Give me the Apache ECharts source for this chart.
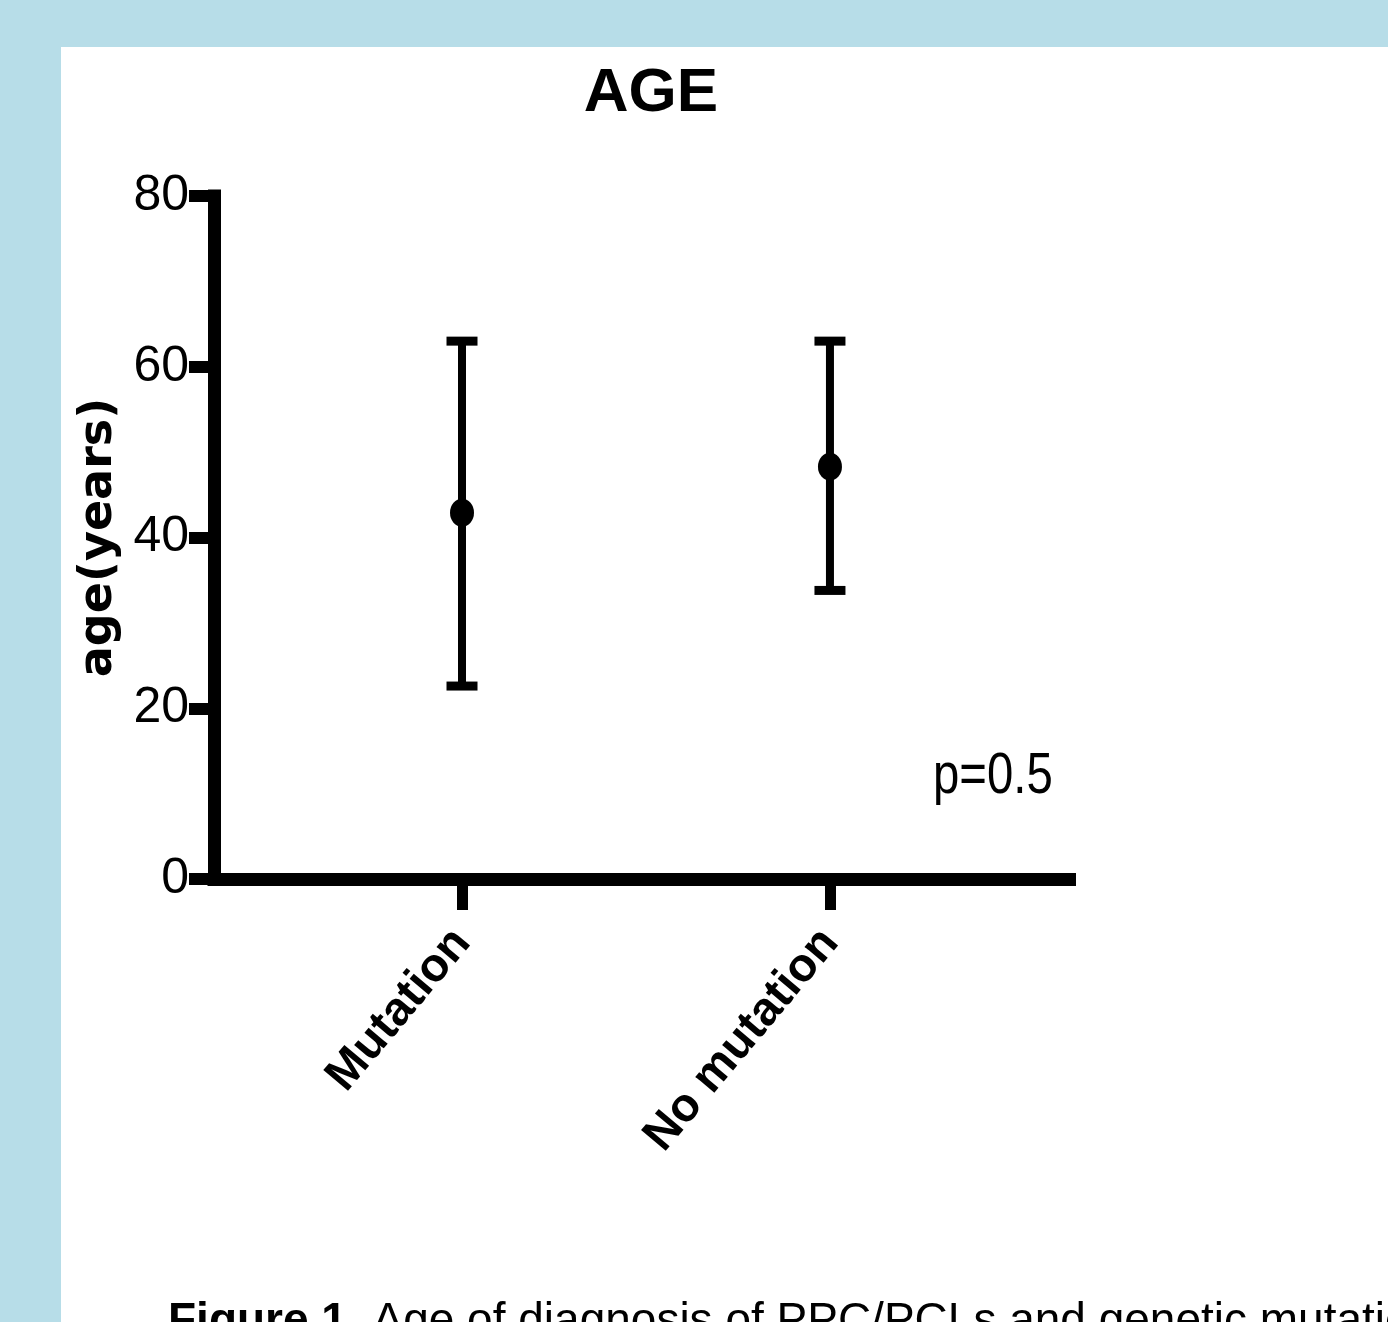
<!DOCTYPE html>
<html>
<head>
<meta charset="utf-8">
<script src="https://cdn.jsdelivr.net/npm/echarts@6/dist/echarts.min.js"></script>
<style>
  html, body { margin: 0; padding: 0; width: 1388px; height: 1322px; overflow: hidden; background: #b7dde8; }
  #panel { position: absolute; left: 61px; top: 47px; width: 1327px; height: 1275px; background: #ffffff; }
  #chart { position: absolute; left: 0; top: 0; width: 1388px; height: 1322px; }
</style>
</head>
<body>
<div id="panel"></div>
<div id="chart"></div>
<script>
const categories = ['Mutation', 'No mutation'];
const meanAge = [42.9, 48.3];
const upperAge = [63.0, 63.0];
const lowerAge = [22.6, 33.8];
const yMin = 0, yMax = 80, yStep = 20;
const titleText = 'AGE';
const yAxisTitle = 'age(years)';
const pText = 'p=0.5';
const captionBold = 'Figure 1.';
const captionRest = ' Age of diagnosis of PPC/PCLs and genetic mutations';

const SANS = '"Liberation Sans", Arial, sans-serif';
const BOLDW = '"DejaVu Sans", sans-serif';

const catIdx = categories.map((c, i) => i);
const barData = catIdx.map(i => [i, lowerAge[i], upperAge[i]]);
const meanData = catIdx.map(i => [i, meanAge[i]]);

const chart = echarts.init(document.getElementById('chart'), null, { renderer: 'canvas' });
chart.setOption({
  backgroundColor: 'transparent',
  animation: false,
  title: {
    text: titleText,
    left: 646,
    textAlign: 'center',
    top: 58,
    textStyle: { fontFamily: SANS, fontWeight: 'bold', fontSize: 62, lineHeight: 62, color: '#000' }
  },
  grid: { left: 214, right: 318.5, top: 196, bottom: 443, containLabel: false },
  xAxis: {
    type: 'value',
    min: -0.674,
    max: 1.651,
    splitLine: { show: false },
    axisLine: { show: true, onZero: false, lineStyle: { color: '#000', width: 13, cap: 'square' } },
    axisTick: { show: true, customValues: catIdx, length: 31, lineStyle: { color: '#000', width: 11 } },
    axisLabel: {
      customValues: catIdx,
      formatter: v => categories[Math.round(v)],
      rotate: 50,
      margin: 56,
      fontFamily: SANS,
      fontWeight: 'bold',
      fontSize: 47,
      color: '#000'
    }
  },
  yAxis: {
    type: 'value',
    min: yMin,
    max: yMax,
    interval: yStep,
    name: yAxisTitle,
    nameLocation: 'middle',
    nameRotate: 90,
    nameGap: 69,
    nameTextStyle: { fontFamily: BOLDW, fontWeight: 'bold', fontSize: 46, lineHeight: 46, color: '#000' },
    splitLine: { show: false },
    axisLine: { show: true, onZero: false, lineStyle: { color: '#000', width: 13, cap: 'square' } },
    axisTick: { show: true, length: 25, lineStyle: { color: '#000', width: 12 } },
    axisLabel: { margin: 25, fontFamily: SANS, fontSize: 50, color: '#000' }
  },
  series: [
    {
      type: 'custom',
      data: barData,
      z: 3,
      renderItem: function (params, api) {
        const x = api.value(0);
        const lo = api.coord([x, api.value(1)]);
        const hi = api.coord([x, api.value(2)]);
        const half = 15.5;
        return {
          type: 'group',
          children: [
            { type: 'line', shape: { x1: lo[0], y1: lo[1], x2: hi[0], y2: hi[1] }, style: { stroke: '#000', lineWidth: 8 } },
            { type: 'line', shape: { x1: hi[0] - half, y1: hi[1], x2: hi[0] + half, y2: hi[1] }, style: { stroke: '#000', lineWidth: 9 } },
            { type: 'line', shape: { x1: lo[0] - half, y1: lo[1], x2: lo[0] + half, y2: lo[1] }, style: { stroke: '#000', lineWidth: 9 } }
          ]
        };
      }
    },
    {
      type: 'scatter',
      data: meanData,
      z: 4,
      symbol: 'circle',
      symbolSize: [24, 28],
      itemStyle: { color: '#000', opacity: 1 }
    }
  ],
  graphic: [
    {
      type: 'text',
      x: 933,
      y: 777.5,
      scaleX: 0.83,
      style: { text: pText, fontFamily: SANS, fontSize: 57, fill: '#000', verticalAlign: 'middle', align: 'left' }
    },
    {
      type: 'text',
      x: 168,
      y: 1322,
      style: {
        text: '{b|' + captionBold + '}' + captionRest,
        fontFamily: SANS,
        fontSize: 46,
        fill: '#000',
        verticalAlign: 'middle',
        align: 'left',
        rich: { b: { fontFamily: SANS, fontWeight: 'bold', fontSize: 46, fill: '#000' } }
      }
    }
  ]
});
</script>
</body>
</html>
